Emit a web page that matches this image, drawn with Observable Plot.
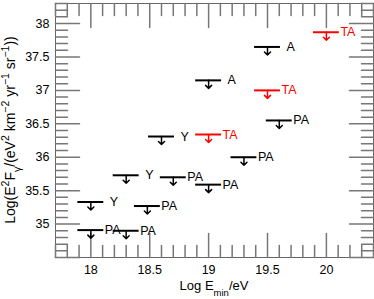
<!DOCTYPE html>
<html>
<head>
<meta charset="utf-8">
<script src="https://cdn.jsdelivr.net/npm/d3@7"></script>
<script src="https://cdn.jsdelivr.net/npm/@observablehq/plot@0.6"></script>
<style>
  html, body { margin: 0; padding: 0; background: white; }
  svg { display: block; }
</style>
</head>
<body>
<div id="chart"></div>
<script>
// ---- data (log10 E_min/eV, log10 E^2 F upper limit) ----
const seriesNames = ["Y", "PA", "A", "TA"];
const yakutskX = [18, 18.3, 18.6];
const yakutskY = [35.33, 35.73, 36.31];
const augerX = [18, 18.3, 18.48, 18.7, 19, 19.3, 19.6];
const augerY = [34.91, 34.90, 35.27, 35.70, 35.59, 36.00, 36.55];
const agasaX = [19, 19.5];
const agasaY = [37.15, 37.65];
const taX = [19, 19.5, 20];
const taY = [36.34, 37.00, 37.87];
const xTicks = [18, 18.5, 19, 19.5, 20];
const yTicks = [35, 35.5, 36, 36.5, 37, 37.5, 38];

const xDomain = [17.7, 20.4];
const yDomain = [34.5, 38.3];
const xMinor = d3.range(177, 205).map(v => v / 10);
const yMinor = d3.range(345, 384).map(v => v / 10);
const isMajor = v => Math.abs(v * 2 - Math.round(v * 2)) < 1e-9;

const zip = (xs, ys) => xs.map((x, i) => ({x, y: ys[i]}));
const series = [
  {name: seriesNames[0], data: zip(yakutskX, yakutskY), color: "black", gap: 19},
  {name: seriesNames[1], data: zip(augerX, augerY), color: "black", gap: 14},
  {name: seriesNames[2], data: zip(agasaX, agasaY), color: "black", gap: 19},
  {name: seriesNames[3], data: zip(taX, taY), color: "#ff0000", gap: 14}
];

const arrowShape = {
  draw(context, l) {
    const w = 3;
    context.moveTo(0, 0);
    context.lineTo(0, -l);
    context.moveTo(-w, w - l);
    context.lineTo(0, -l);
    context.lineTo(w, w - l);
  }
};
const tickShape = {
  draw(context, l) {
    context.moveTo(0, 0);
    context.lineTo(0, -l);
  }
};
const halfBar = 0.11;
const fmt = d => String(d);

const marks = [
  Plot.frame({stroke: "#666", strokeWidth: 1}),
  // inner ticks on all four sides
  Plot.vector(xMinor, {x: d => d, y: () => yDomain[0], rotate: 0, anchor: "start",
    length: d => isMajor(d) ? 4 : 2, shape: tickShape, stroke: "#777"}),
  Plot.vector(xMinor, {x: d => d, y: () => yDomain[1], rotate: 180, anchor: "start",
    length: d => isMajor(d) ? 4 : 2, shape: tickShape, stroke: "#777"}),
  Plot.vector(yMinor, {y: d => d, x: () => xDomain[0], rotate: 90, anchor: "start",
    length: d => isMajor(d) ? 4 : 2, shape: tickShape, stroke: "#777"}),
  Plot.vector(yMinor, {y: d => d, x: () => xDomain[1], rotate: -90, anchor: "start",
    length: d => isMajor(d) ? 4 : 2, shape: tickShape, stroke: "#777"}),
  Plot.axisX(xTicks, {tickSize: 0, tickPadding: 8, tickFormat: fmt, label: null, fontSize: 12.5, fill: "black"}),
  Plot.axisY(yTicks, {tickSize: 0, tickPadding: 6, tickFormat: fmt, label: null, fontSize: 12.5, fill: "black"})
];
for (const s of series) {
  marks.push(
    Plot.ruleY(s.data, {y: "y", x1: d => d.x - halfBar, x2: d => d.x + halfBar, stroke: s.color, strokeWidth: 2}),
    Plot.vector(s.data, {x: "x", y: "y", rotate: 180, anchor: "start", length: 8, shape: arrowShape,
      stroke: s.color, strokeWidth: 1.5}),
    Plot.text(s.data, {x: "x", y: "y", text: () => s.name, textAnchor: "start", dx: s.gap,
      fill: s.color, fontSize: 12.5})
  );
}

const chart = Plot.plot({
  width: 374,
  height: 299,
  marginLeft: 55,
  marginRight: 1,
  marginTop: 3,
  marginBottom: 42,
  x: {domain: xDomain},
  y: {domain: yDomain},
  style: {fontFamily: "'Liberation Sans', Arial, sans-serif", fontSize: "12.5px", background: "white", color: "black"},
  marks
});

// axis titles with sub/superscripts
const svg = d3.select(chart);
const xt = svg.append("text")
  .attr("x", (55 + 373) / 2).attr("y", 290)
  .attr("text-anchor", "middle")
  .attr("font-size", 13).attr("fill", "black");
xt.append("tspan").text("Log E");
xt.append("tspan").attr("font-size", 9.5).attr("baseline-shift", "sub").text("min");
xt.append("tspan").text("/eV");

const yt = svg.append("text")
  .attr("transform", `translate(15,${(3 + 257) / 2}) rotate(-90)`)
  .attr("text-anchor", "middle")
  .attr("font-size", 14).attr("fill", "black");
const parts = [
  ["Log(E"], ["2", "super"], ["F"], ["γ", "sub"], ["/(eV"], ["2", "super"],
  [" km"], ["−2", "super"], [" yr"], ["−1", "super"], [" sr"], ["−1", "super"], ["))"]
];
for (const [t, shift] of parts) {
  const ts = yt.append("tspan").text(t);
  if (shift) ts.attr("font-size", 10.5).attr("baseline-shift", shift);
}

document.getElementById("chart").append(chart);
</script>
</body>
</html>
